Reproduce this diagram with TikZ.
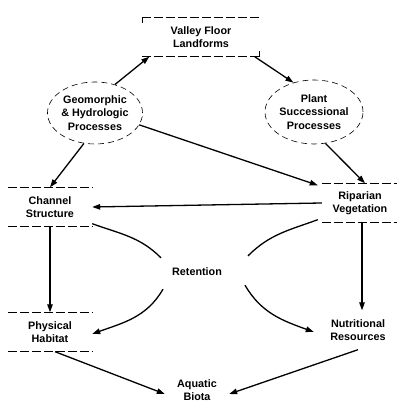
\documentclass[tikz,border=0pt]{standalone}
\usepackage{fontspec}
\setmainfont{Liberation Sans}
\usetikzlibrary{shapes.geometric,arrows.meta}
\begin{document}
\begin{tikzpicture}[x=1pt,y=1pt,
  lbl/.style={font=\bfseries\fontsize{10.8}{13.5}\selectfont, align=center, inner sep=0pt},
  boxn/.style={lbl, minimum width=#1, minimum height=39},
  elln/.style={lbl, ellipse, draw, dashed, dash pattern=on 6pt off 4pt, line width=0.6pt},
  edge/.style={line width=1.3pt, -{Triangle[length=8pt,width=5.5pt]}},
  plain/.style={line width=1.3pt},
  rim/.style={line width=0.8pt, dash pattern=on 9pt off 3pt}]
\useasboundingbox (0,0) rectangle (396,419);
\node[boxn=117] (vfl) at (201,382) {Valley Floor\\Landforms};
\node[elln, minimum width=92, minimum height=62] (geo) at (95,306) {Geomorphic\\\& Hydrologic\\Processes};
\node[elln, minimum width=98, minimum height=64] (pla) at (314,307) {Plant\\Successional\\Processes};
\node[boxn=84] (ch) at (50,212) {Channel\\Structure};
\node[boxn=76] (rip) at (360,216) {Riparian\\Vegetation};
\node[lbl] (ret) at (197,147) {Retention};
\node[boxn=84] (ph) at (50,87) {Physical\\Habitat};
\node[boxn=76] (nut) at (358,89) {Nutritional\\Resources};
\node[boxn=60, minimum height=32] (aq) at (197,29) {Aquatic\\Biota};
% box rims
\foreach \n in {vfl,ch,ph,rip}{
  \draw[rim] (\n.north west) -- (\n.north east);
  \draw[rim] (\n.south west) -- (\n.south east);
}
\draw[rim] (vfl.north west) -- ([yshift=-6pt]vfl.north west);
\draw[rim] (vfl.south east) -- ([yshift=6pt]vfl.south east);
% arrows
\draw[edge] (geo.55) -- ([xshift=7pt]vfl.south west);
\draw[edge] ([xshift=-5pt]vfl.south east) -- (pla.125);
\draw[edge] (geo.-15) -- ([xshift=-4pt,yshift=-2pt]rip.north west);
\draw[edge] (pla.-70) -- ([xshift=5pt]rip.north);
\draw[edge] (geo.-110) -- (ch.north);
\draw[edge] (rip.west) -- (ch.east);
\draw[edge] (ch.south) -- (ph.north);
\draw[edge] ([xshift=2pt]rip.south) -- ([xshift=4pt]nut.north);
\draw[plain] ([yshift=3pt]ch.south east) to[out=-20,in=135] ([xshift=-36pt,yshift=10pt]ret.north);
\draw[plain] ([xshift=-4pt,yshift=3pt]rip.south west) to[out=200,in=45] ([xshift=51pt,yshift=12pt]ret.north);
\draw[edge] ([xshift=-34pt,yshift=-13pt]ret.south) to[out=-120,in=20] ([yshift=-2pt]ph.east);
\draw[edge] ([xshift=48pt,yshift=-9pt]ret.south) to[out=-60,in=160] ([xshift=-6pt,yshift=-2pt]nut.west);
\draw[edge] ([xshift=5pt]ph.south) -- ([xshift=-2pt,yshift=-4pt]aq.west);
\draw[edge] ([xshift=0pt]nut.south) -- ([xshift=2pt,yshift=-4pt]aq.east);
\end{tikzpicture}
\end{document}
